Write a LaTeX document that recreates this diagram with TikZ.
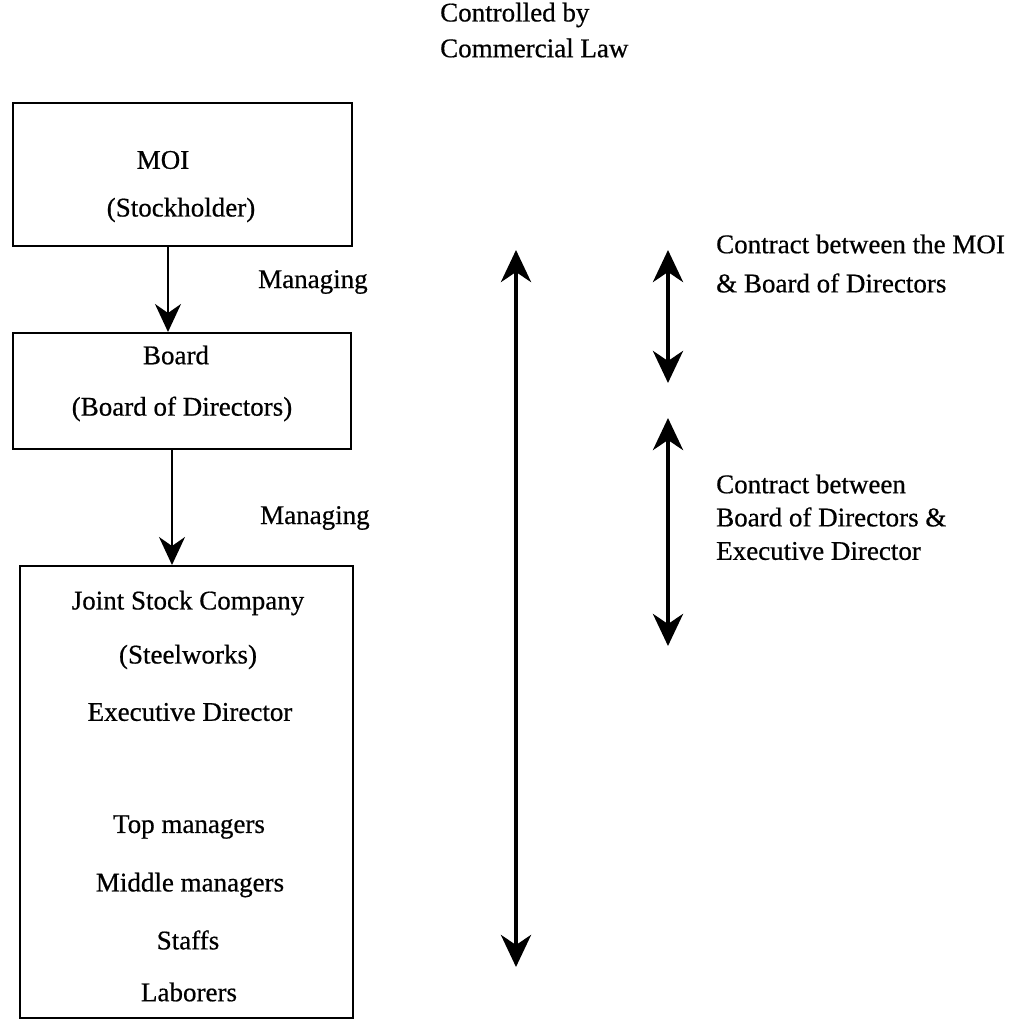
\documentclass[tikz,border=0pt]{standalone}
\usepackage{fontspec}
\setmainfont{Liberation Serif}[FakeBold=0.6,AutoFakeBold=0.6]
\usetikzlibrary{arrows.meta}

\begin{document}
\begin{tikzpicture}[x=1pt,y=-1pt,
  txt/.style={inner sep=0pt,font=\fontsize{27}{32}\selectfont\bfseries},
  ltxt/.style={txt,anchor=west},
  boxframe/.style={draw,line width=1.8pt,anchor=north west,inner sep=0pt},
  thinarrow/.style={line width=1.8pt,-{Stealth[length=28pt,width=26pt,inset=9pt]}},
  thickarrow/.style={line width=4.5pt,{Stealth[length=32pt,width=30pt,inset=10pt]}-{Stealth[length=32pt,width=30pt,inset=10pt]}}
]
\useasboundingbox (0,0) rectangle (1026,1019);

% organisation boxes
\node[boxframe,minimum width=339pt,minimum height=143pt] (moi) at (12,102) {};
\node[boxframe,minimum width=338pt,minimum height=116pt] (board) at (12,332) {};
\node[boxframe,minimum width=333pt,minimum height=452pt] (jsc) at (19,565) {};

% box contents
\node[txt] (moiname) at (163,160) {MOI};
\node[txt] (moirole) at (181,210) {(Stockholder)};
\node[txt] (boardname) at (176,355) {Board};
\node[txt] (boardrole) at (182,409) {(Board of Directors)};
\node[txt] (jscname) at (188,603) {Joint Stock Company};
\node[txt] (jscrole) at (188,657) {(Steelworks)};
\node[txt] (execdir) at (190,712) {Executive Director};
\node[txt] (topman) at (189,827) {Top managers};
\node[txt] (midman) at (190,885) {Middle managers};
\node[txt] (staffs) at (188,940) {Staffs};
\node[txt] (labor) at (189,992) {Laborers};

% managing arrows between the boxes
\coordinate (colA) at (168,0);
\coordinate (colB) at (172,0);
\draw[thinarrow] (moi.south -| colA) -- (board.north -| colA);
\draw[thinarrow] (board.south -| colB) -- (jsc.north -| colB);
\node[ltxt] (mng1) at (258,282) {Managing};
\node[ltxt] (mng2) at (260,518) {Managing};

% legal framework
\node[ltxt] (ctrl1) at (440,15) {Controlled by};
\node[ltxt] (ctrl2) at (440,48) {Commercial Law};
\coordinate (lawtop) at (516,250);
\coordinate (lawbot) at (516,967);
\draw[thickarrow] (lawtop) -- (lawbot);

% contracts
\coordinate (c1top) at (668,250);
\coordinate (c1bot) at (668,383);
\coordinate (c2top) at (668,418);
\coordinate (c2bot) at (668,646);
\draw[thickarrow] (c1top) -- (c1bot);
\draw[thickarrow] (c2top) -- (c2bot);

\node[ltxt] (ct1a) at (716,244) {Contract between the MOI};
\node[ltxt] (ct1b) at (716,283) {\& Board of Directors};
\node[ltxt] (ct2a) at (716,484) {Contract between};
\node[ltxt] (ct2b) at (716,517) {Board of Directors \&};
\node[ltxt] (ct2c) at (716,551) {Executive Director};
\end{tikzpicture}
\end{document}
